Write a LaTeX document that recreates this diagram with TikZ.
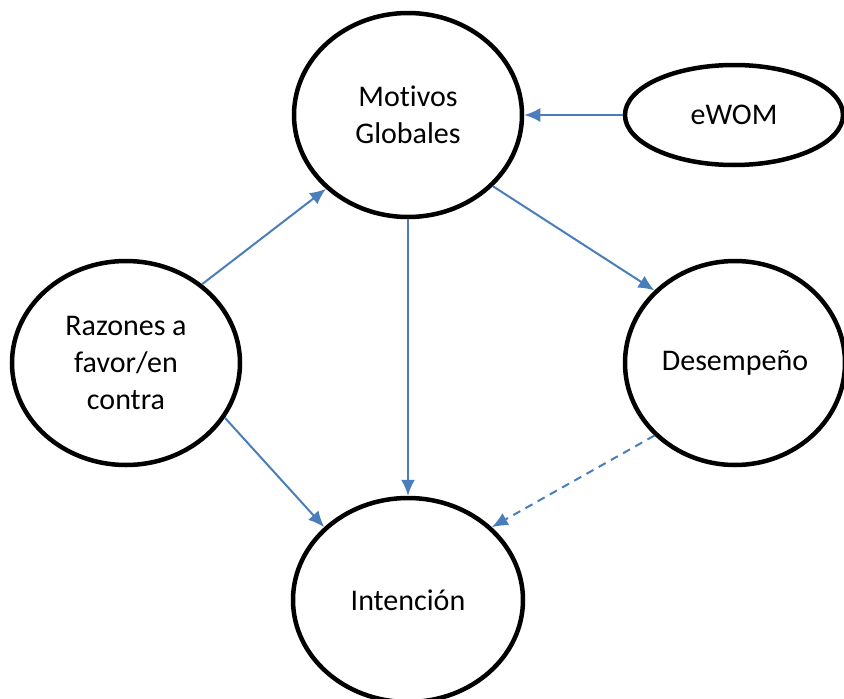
\documentclass[tikz,border=0pt]{standalone}
\usepackage{fontspec}
\setmainfont[Ligatures={NoCommon}]{Carlito}
\usetikzlibrary{shapes.geometric,arrows.meta}
\definecolor{linkblue}{RGB}{74,126,187}
\begin{document}
\begin{tikzpicture}[x=1pt,y=-1pt,
	bubble/.style={draw=black,line width=4.5pt,ellipse,inner sep=0pt,align=center,font=\fontsize{30}{36.6}\selectfont},
	link/.style={draw=linkblue,line width=2pt,-{Latex[length=16pt,width=14pt]}}]
	\useasboundingbox (0,0) rectangle (844,699);

	\node[bubble,minimum width=228pt,minimum height=204pt] (mot) at (408,115) {Motivos\\Globales};
	\node[bubble,minimum width=218pt,minimum height=100pt] (ewom) at (734,115) {eWOM};
	\node[bubble,minimum width=228pt,minimum height=204pt] (raz) at (126,363) {Razones a\\favor/en\\contra};
	\node[bubble,minimum width=220pt,minimum height=204pt] (des) at (735,363) {Desempe\~no};
	\node[bubble,minimum width=230pt,minimum height=204pt] (int) at (408,600) {Intenci\'on};

	\draw[link] (ewom.west) -- (mot.east);
	\draw[link] (raz.46) -- (mot.-138);
	\draw[link] (mot.-40) -- (des.138);
	\draw[link] (mot.south) -- (int.north);
	\draw[link] (raz.-29) -- (int.139);
	\draw[link,dashed,dash pattern=on 8pt off 6pt] (des.-138) -- (int.41);

\end{tikzpicture}
\end{document}
